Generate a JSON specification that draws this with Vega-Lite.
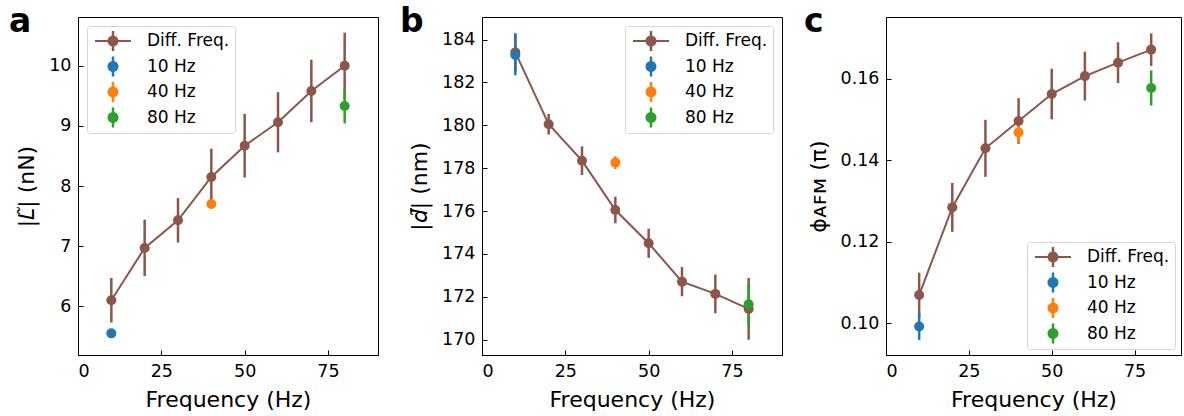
{
  "$schema": "https://vega.github.io/schema/vega-lite/v6.json",
  "background": "white",
  "padding": {"left": 8, "top": 5, "right": 0, "bottom": 0},
  "bounds": "flush",
  "spacing": 104,
  "resolve": {"legend": {"color": "independent", "shape": "independent"}},
  "datasets": {
    "a": [
      {"series": "Diff. Freq.", "f": 10, "v": 6.10, "e": 0.37},
      {"series": "Diff. Freq.", "f": 20, "v": 6.97, "e": 0.47},
      {"series": "Diff. Freq.", "f": 30, "v": 7.43, "e": 0.37},
      {"series": "Diff. Freq.", "f": 40, "v": 8.15, "e": 0.47},
      {"series": "Diff. Freq.", "f": 50, "v": 8.67, "e": 0.53},
      {"series": "Diff. Freq.", "f": 60, "v": 9.06, "e": 0.50},
      {"series": "Diff. Freq.", "f": 70, "v": 9.58, "e": 0.52},
      {"series": "Diff. Freq.", "f": 80, "v": 10.0, "e": 0.55},
      {"series": "10 Hz", "f": 10, "v": 5.55, "e": 0.05},
      {"series": "40 Hz", "f": 40, "v": 7.70, "e": 0.08},
      {"series": "80 Hz", "f": 80, "v": 9.33, "e": 0.29}
    ],
    "b": [
      {"series": "Diff. Freq.", "f": 10, "v": 183.4, "e": 0.9},
      {"series": "Diff. Freq.", "f": 20, "v": 180.05, "e": 0.48},
      {"series": "Diff. Freq.", "f": 30, "v": 178.35, "e": 0.67},
      {"series": "Diff. Freq.", "f": 40, "v": 176.05, "e": 0.62},
      {"series": "Diff. Freq.", "f": 50, "v": 174.5, "e": 0.68},
      {"series": "Diff. Freq.", "f": 60, "v": 172.71, "e": 0.68},
      {"series": "Diff. Freq.", "f": 70, "v": 172.14, "e": 0.9},
      {"series": "Diff. Freq.", "f": 80, "v": 171.44, "e": 1.44},
      {"series": "10 Hz", "f": 10, "v": 183.28, "e": 0.95},
      {"series": "40 Hz", "f": 40, "v": 178.26, "e": 0.3},
      {"series": "80 Hz", "f": 80, "v": 171.66, "e": 0.98}
    ],
    "c": [
      {"series": "Diff. Freq.", "f": 10, "v": 0.1069, "e": 0.0055},
      {"series": "Diff. Freq.", "f": 20, "v": 0.1284, "e": 0.006},
      {"series": "Diff. Freq.", "f": 30, "v": 0.1429, "e": 0.007},
      {"series": "Diff. Freq.", "f": 40, "v": 0.1496, "e": 0.0056},
      {"series": "Diff. Freq.", "f": 50, "v": 0.1562, "e": 0.0062},
      {"series": "Diff. Freq.", "f": 60, "v": 0.1606, "e": 0.006},
      {"series": "Diff. Freq.", "f": 70, "v": 0.1639, "e": 0.005},
      {"series": "Diff. Freq.", "f": 80, "v": 0.1671, "e": 0.004},
      {"series": "10 Hz", "f": 10, "v": 0.0992, "e": 0.0033},
      {"series": "40 Hz", "f": 40, "v": 0.1468, "e": 0.0025},
      {"series": "80 Hz", "f": 80, "v": 0.1577, "e": 0.0043}
    ]
  },
  "hconcat": [
    {
      "width": 300, "height": 338,
      "title": {"text": "a", "anchor": "start", "frame": "group", "fontSize": 33, "fontWeight": "bold", "baseline": "alphabetic", "offset": -33, "dx": -69, "dy": 15, "color": "black"},
      "data": {"name": "a"},
      "layer": [
        {"transform": [{"filter": "datum.series == 'Diff. Freq.'"}],
         "mark": {"type": "line", "color": "#8c564b", "strokeWidth": 2},
         "encoding": {
           "x": {"field": "f", "type": "quantitative", "title": "Frequency (Hz)", "scale": {"domain": [0, 90], "nice": false}, "axis": {"values": [0, 25, 50, 75]}},
           "y": {"field": "v", "type": "quantitative", "title": "|𝘓̃| (nN)", "scale": {"domain": [5.19, 10.81], "zero": false, "nice": false}, "axis": {"values": [6, 7, 8, 9, 10], "format": "d"}}
         }},
        {"mark": {"type": "errorbar", "thickness": 2.5},
         "encoding": {
           "x": {"field": "f", "type": "quantitative", "title": "Frequency (Hz)"},
           "y": {"field": "v", "type": "quantitative", "title": "|𝘓̃| (nN)"},
           "yError": {"field": "e"},
           "color": {"field": "series", "type": "nominal", "scale": {"domain": ["Diff. Freq.", "10 Hz", "40 Hz", "80 Hz"], "range": ["#8c564b", "#1f77b4", "#ff7f0e", "#2ca02c"]}, "legend": {"orient": "top-left", "offset": 9}}
         }},
        {"mark": {"type": "point", "filled": true, "size": 100, "opacity": 1},
         "encoding": {
           "x": {"field": "f", "type": "quantitative", "title": "Frequency (Hz)"},
           "y": {"field": "v", "type": "quantitative", "title": "|𝘓̃| (nN)"},
           "color": {"field": "series", "type": "nominal", "legend": {"orient": "top-left", "offset": 9}}
         }},
        {"mark": {"type": "point", "filled": true, "opacity": 0},
         "encoding": {
           "x": {"field": "f", "type": "quantitative", "title": "Frequency (Hz)"},
           "y": {"field": "v", "type": "quantitative", "title": "|𝘓̃| (nN)"},
           "color": {"field": "series", "type": "nominal", "legend": {"orient": "top-left", "offset": 9}},
           "shape": {"field": "series", "type": "nominal", "scale": {"domain": ["Diff. Freq.", "10 Hz", "40 Hz", "80 Hz"], "range": ["M-0.7,-0.1H2.9V0.1H-0.7ZM0.975,-1H1.225V1H0.975ZM1.65,0A0.55,0.55,0,1,1,0.55,0A0.55,0.55,0,1,1,1.65,0Z", "M0.975,-1H1.225V1H0.975ZM1.65,0A0.55,0.55,0,1,1,0.55,0A0.55,0.55,0,1,1,1.65,0Z", "M0.975,-1H1.225V1H0.975ZM1.65,0A0.55,0.55,0,1,1,0.55,0A0.55,0.55,0,1,1,1.65,0Z", "M0.975,-1H1.225V1H0.975ZM1.65,0A0.55,0.55,0,1,1,0.55,0A0.55,0.55,0,1,1,1.65,0Z"]}, "legend": {"orient": "top-left", "offset": 9}}
         }}
      ]
    },
    {
      "width": 300, "height": 338,
      "title": {"text": "b", "anchor": "start", "frame": "group", "fontSize": 33, "fontWeight": "bold", "baseline": "alphabetic", "offset": -33, "dx": -82, "dy": 15, "color": "black"},
      "data": {"name": "b"},
      "layer": [
        {"transform": [{"filter": "datum.series == 'Diff. Freq.'"}],
         "mark": {"type": "line", "color": "#8c564b", "strokeWidth": 2},
         "encoding": {
           "x": {"field": "f", "type": "quantitative", "title": "Frequency (Hz)", "scale": {"domain": [0, 90], "nice": false}, "axis": {"values": [0, 25, 50, 75]}},
           "y": {"field": "v", "type": "quantitative", "title": "|𝘥̃| (nm)", "scale": {"domain": [169.29, 185.05], "zero": false, "nice": false}, "axis": {"values": [170, 172, 174, 176, 178, 180, 182, 184], "format": "d"}}
         }},
        {"mark": {"type": "errorbar", "thickness": 2.5},
         "encoding": {
           "x": {"field": "f", "type": "quantitative", "title": "Frequency (Hz)"},
           "y": {"field": "v", "type": "quantitative", "title": "|𝘥̃| (nm)"},
           "yError": {"field": "e"},
           "color": {"field": "series", "type": "nominal", "scale": {"domain": ["Diff. Freq.", "10 Hz", "40 Hz", "80 Hz"], "range": ["#8c564b", "#1f77b4", "#ff7f0e", "#2ca02c"]}, "legend": {"orient": "top-right", "offset": 9}}
         }},
        {"mark": {"type": "point", "filled": true, "size": 100, "opacity": 1},
         "encoding": {
           "x": {"field": "f", "type": "quantitative", "title": "Frequency (Hz)"},
           "y": {"field": "v", "type": "quantitative", "title": "|𝘥̃| (nm)"},
           "color": {"field": "series", "type": "nominal", "legend": {"orient": "top-right", "offset": 9}}
         }},
        {"mark": {"type": "point", "filled": true, "opacity": 0},
         "encoding": {
           "x": {"field": "f", "type": "quantitative", "title": "Frequency (Hz)"},
           "y": {"field": "v", "type": "quantitative", "title": "|𝘥̃| (nm)"},
           "color": {"field": "series", "type": "nominal", "legend": {"orient": "top-right", "offset": 9}},
           "shape": {"field": "series", "type": "nominal", "legend": {"orient": "top-right", "offset": 9}}
         }}
      ]
    },
    {
      "width": 295, "height": 338,
      "title": {"text": "c", "anchor": "start", "frame": "group", "fontSize": 33, "fontWeight": "bold", "baseline": "alphabetic", "offset": -33, "dx": -82, "dy": 15, "color": "black"},
      "data": {"name": "c"},
      "layer": [
        {"transform": [{"filter": "datum.series == 'Diff. Freq.'"}],
         "mark": {"type": "line", "color": "#8c564b", "strokeWidth": 2},
         "encoding": {
           "x": {"field": "f", "type": "quantitative", "title": "Frequency (Hz)", "scale": {"domain": [0, 89], "nice": false}, "axis": {"values": [0, 25, 50, 75]}},
           "y": {"field": "v", "type": "quantitative", "title": "ϕᴀꜰᴍ (π)", "scale": {"domain": [0.0922, 0.1751], "zero": false, "nice": false}, "axis": {"values": [0.10, 0.12, 0.14, 0.16], "format": ".2f"}}
         }},
        {"mark": {"type": "errorbar", "thickness": 2.5},
         "encoding": {
           "x": {"field": "f", "type": "quantitative", "title": "Frequency (Hz)"},
           "y": {"field": "v", "type": "quantitative", "title": "ϕᴀꜰᴍ (π)"},
           "yError": {"field": "e"},
           "color": {"field": "series", "type": "nominal", "scale": {"domain": ["Diff. Freq.", "10 Hz", "40 Hz", "80 Hz"], "range": ["#8c564b", "#1f77b4", "#ff7f0e", "#2ca02c"]}, "legend": {"orient": "bottom-right", "offset": 6}}
         }},
        {"mark": {"type": "point", "filled": true, "size": 100, "opacity": 1},
         "encoding": {
           "x": {"field": "f", "type": "quantitative", "title": "Frequency (Hz)"},
           "y": {"field": "v", "type": "quantitative", "title": "ϕᴀꜰᴍ (π)"},
           "color": {"field": "series", "type": "nominal", "legend": {"orient": "bottom-right", "offset": 6}}
         }},
        {"mark": {"type": "point", "filled": true, "opacity": 0},
         "encoding": {
           "x": {"field": "f", "type": "quantitative", "title": "Frequency (Hz)"},
           "y": {"field": "v", "type": "quantitative", "title": "ϕᴀꜰᴍ (π)"},
           "color": {"field": "series", "type": "nominal", "legend": {"orient": "bottom-right", "offset": 6}},
           "shape": {"field": "series", "type": "nominal", "legend": {"orient": "bottom-right", "offset": 6}}
         }}
      ]
    }
  ],
  "config": {
    "font": "DejaVu Sans",
    "view": {"stroke": "black", "strokeWidth": 1},
    "axis": {
      "grid": false,
      "domainColor": "black", "domainWidth": 1,
      "tickColor": "black", "tickWidth": 1, "tickSize": -5,
      "labelPadding": 12, "labelFontSize": 17.5, "labelColor": "black", "labelFont": "DejaVu Sans",
      "titleFontSize": 22, "titleFontWeight": "normal", "titleColor": "black", "titleFont": "DejaVu Sans", "titlePadding": 10
    },
    "legend": {
      "title": null,
      "labelFontSize": 17, "labelColor": "black", "labelFont": "DejaVu Sans", "labelOffset": 35,
      "symbolSize": 400, "symbolOpacity": 1, "symbolStrokeWidth": 0,
      "rowPadding": 5.5, "padding": 5,
      "fillColor": "rgba(255,255,255,0.8)", "strokeColor": "#d4d4d4", "cornerRadius": 3
    }
  }
}
